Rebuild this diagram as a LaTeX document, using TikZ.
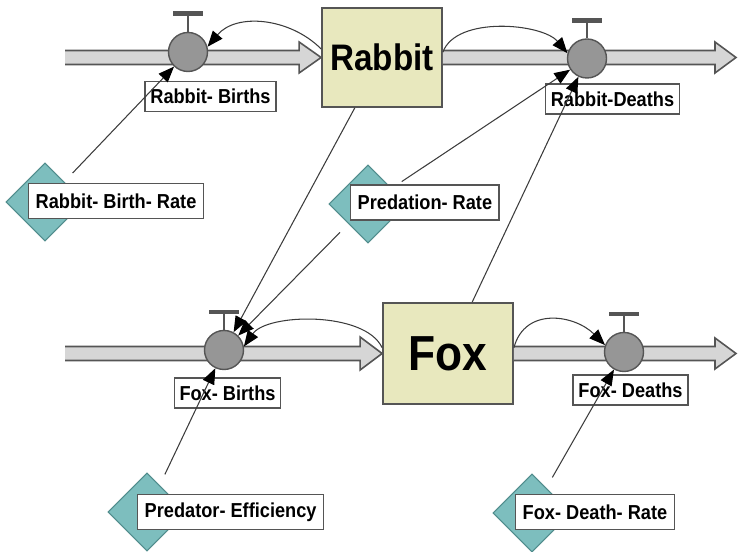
\documentclass[tikz,border=0pt]{standalone}
\usepackage{fontspec}
\setmainfont{Liberation Sans}[FakeStretch=0.9]
\usepackage{tikz}
\usetikzlibrary{calc,arrows.meta,shapes.geometric}
\definecolor{stockFill}{RGB}{232,232,190}
\definecolor{rateTeal}{RGB}{125,190,190}
\definecolor{rateTealDark}{RGB}{80,140,140}
\definecolor{valveGray}{RGB}{150,150,150}
\definecolor{pipeGray}{RGB}{214,214,214}
\definecolor{sdGray}{RGB}{85,85,85}
\definecolor{linkGray}{RGB}{60,60,60}

\tikzset{
  stock/.style={draw=sdGray, line width=1pt, fill=stockFill},
  pipe/.style={draw=sdGray, line width=0.9pt, fill=pipeGray},
  valve/.style={circle, draw=sdGray, line width=0.8pt, fill=valveGray, minimum size=0.78cm, inner sep=0pt},
  stem/.style={draw=sdGray, line width=1.4pt},
  flowlabel/.style={draw=sdGray, line width=0.8pt, fill=white, font=\fontsize{11.5}{12}\selectfont\bfseries, inner xsep=3pt, minimum height=0.6cm},
  ratelabel/.style={flowlabel, anchor=west, inner xsep=4pt, minimum height=0.7cm},
  conv/.style={diamond, aspect=1, draw=rateTealDark, line width=0.6pt, fill=rateTeal, minimum size=1.56cm, inner sep=0pt},
  link/.style={draw=linkGray, line width=0.6pt, -{Triangle[length=9pt,width=7pt,color=black]}},
}

\begin{document}
\begin{tikzpicture}
\useasboundingbox (0,0) rectangle (14.78,11.04);

% stocks
\node[stock, minimum width=2.4cm, minimum height=1.98cm, font=\fontsize{21}{24}\selectfont\bfseries] (rabbit) at (7.64,9.89) {Rabbit};
\node[stock, minimum width=2.6cm, minimum height=2.02cm, font=\fontsize{28}{32}\selectfont\bfseries] (fox) at (8.96,3.97) {Fox};

\coordinate (src1) at (1.3,9.89);
\coordinate (sink1) at (14.72,9.89);
\coordinate (src2) at (1.3,3.97);
\coordinate (sink2) at (14.72,3.97);

% pipes
\draw[pipe] ($(src1)+(0,-0.14)$) -- ($(rabbit.west)+(-0.44,-0.14)$) -- ($(rabbit.west)+(-0.44,-0.31)$) -- (rabbit.west)
  -- ($(rabbit.west)+(-0.44,0.31)$) -- ($(rabbit.west)+(-0.44,0.14)$) -- ($(src1)+(0,0.14)$);
\draw[pipe] ($(rabbit.east)+(0,0.14)$) -- ($(sink1)+(-0.42,0.14)$) -- ($(sink1)+(-0.42,0.31)$) -- (sink1)
  -- ($(sink1)+(-0.42,-0.31)$) -- ($(sink1)+(-0.42,-0.14)$) -- ($(rabbit.east)+(0,-0.14)$);
\draw[pipe] ($(src2)+(0,-0.14)$) -- ($(fox.west)+(-0.44,-0.14)$) -- ($(fox.west)+(-0.44,-0.33)$) -- (fox.west)
  -- ($(fox.west)+(-0.44,0.33)$) -- ($(fox.west)+(-0.44,0.14)$) -- ($(src2)+(0,0.14)$);
\draw[pipe] ($(fox.east)+(0,0.14)$) -- ($(sink2)+(-0.42,0.14)$) -- ($(sink2)+(-0.42,0.31)$) -- (sink2)
  -- ($(sink2)+(-0.42,-0.31)$) -- ($(sink2)+(-0.42,-0.14)$) -- ($(fox.east)+(0,-0.14)$);

% valves
\node[valve] (v1) at (3.76,10.0) {};
\node[valve] (v2) at (11.74,9.87) {};
\node[valve] (v3) at (4.48,4.04) {};
\node[valve] (v4) at (12.48,4.0) {};
\foreach \v in {v1,v2,v3,v4}{
  \draw[stem] (\v.north) -- ++(0,0.36);
  \draw[stem, line width=2.6pt] ($(\v.north)+(-0.3,0.36)$) -- ++(0.6,0);
}

% flow labels
\node[flowlabel] (l1) at (4.21,9.11) {Rabbit- Births};
\node[flowlabel] (l2) at (12.25,9.06) {Rabbit-Deaths};
\node[flowlabel] (l3) at (4.55,3.18) {Fox- Births};
\node[flowlabel] (l4) at (12.61,3.24) {Fox- Deaths};

% converters
\node[conv] (d1) at (0.9,7.0) {};
\node[conv] (d2) at (7.36,6.96) {};
\node[conv] (d3) at (2.94,0.8) {};
\node[conv] (d4) at (10.64,0.78) {};
\node[ratelabel] (r1) at (0.56,7.02) {Rabbit- Birth- Rate};
\node[ratelabel] (r2) at (7.0,6.99) {Predation- Rate};
\node[ratelabel] (r3) at (2.74,0.8) {Predator- Efficiency};
\node[ratelabel] (r4) at (10.3,0.8) {Fox- Death- Rate};

% links
\draw[link, shorten <=0.24cm] (d1) -- (v1);
\draw[link, shorten <=0.24cm] (d2) -- (v2);
\draw[link, shorten <=0.24cm] (d2) -- (v3);
\draw[link, shorten <=0.24cm] (d3) -- (v3);
\draw[link, shorten <=0.24cm] (d4) -- (v4);
\draw[link] (rabbit) -- (v3);
\draw[link] (fox) -- (v2);
\draw[link] (rabbit.172) to[out=135,in=50] (v1.15);
\draw[link] (rabbit.5) to[out=70,in=130,looseness=0.8] (v2.165);
\draw[link] (fox.175) to[out=115,in=55,looseness=0.75] (v3.10);
\draw[link] (fox.5) to[out=75,in=135,looseness=1.2] (v4.160);
\end{tikzpicture}
\end{document}
